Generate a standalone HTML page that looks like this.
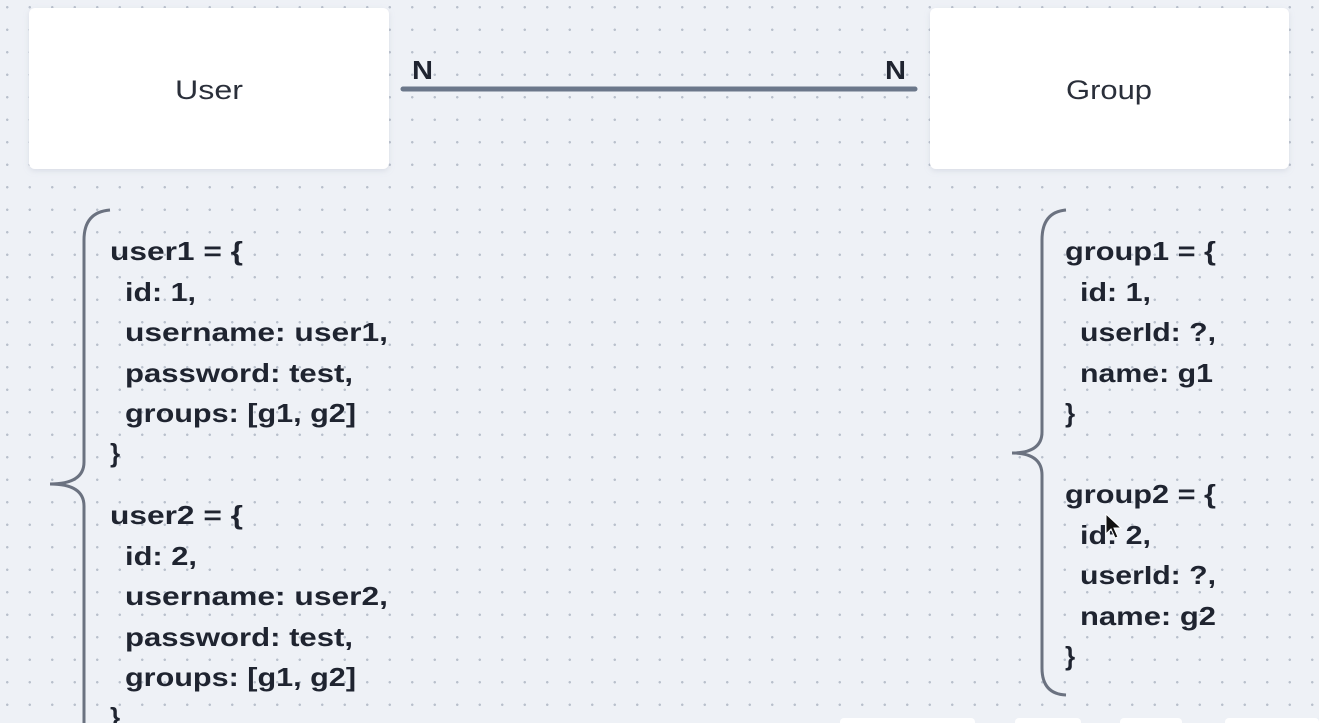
<!DOCTYPE html>
<html><head><meta charset="utf-8"><style>
html,body{margin:0;padding:0;}
body{width:1319px;height:723px;overflow:hidden;background:#eef1f6;
background-image:radial-gradient(circle,#b9c0cc 1.1px,transparent 1.3px);
background-size:22.5px 22.5px;background-position:-4px -4px;}
svg{position:absolute;left:0;top:0;}
text{font-family:"Liberation Sans",sans-serif;font-weight:bold;fill:#1f2430;font-size:26px;}
</style></head><body>
<svg width="1319" height="723" viewBox="0 0 1319 723">
<defs><filter id="sh" x="-10%" y="-10%" width="120%" height="130%"><feDropShadow dx="0" dy="2" stdDeviation="3" flood-color="#9aa3b5" flood-opacity="0.25"/></filter></defs>
<rect x="29" y="8" width="360" height="161" rx="6" fill="#fff" filter="url(#sh)"/>
<rect x="930" y="8" width="359" height="161" rx="6" fill="#fff" filter="url(#sh)"/>
<text x="209" y="99" text-anchor="middle" textLength="68" lengthAdjust="spacingAndGlyphs" style="font-weight:normal;font-size:27px;fill:#2a2f3a">User</text>
<text x="1109" y="99" text-anchor="middle" textLength="86" lengthAdjust="spacingAndGlyphs" style="font-weight:normal;font-size:27px;fill:#2a2f3a">Group</text>
<line x1="403" y1="89" x2="915" y2="89" stroke="#6b778a" stroke-width="5" stroke-linecap="round"/>
<text x="412" y="79" textLength="21" lengthAdjust="spacingAndGlyphs">N</text>
<text x="885" y="79" textLength="21" lengthAdjust="spacingAndGlyphs">N</text>
<path d="M110 210 Q84 212 84 240 L84 462 Q84 484 50 484 Q84 484 84 506 L84 723" fill="none" stroke="#6b7280" stroke-width="3"/>
<path d="M1066 210 Q1042 212 1042 240 L1042 432 Q1042 453 1012 453 Q1042 453 1042 475 L1042 668 Q1042 694 1066 695" fill="none" stroke="#6b7280" stroke-width="3"/>
<g>
<text x="110" y="260" textLength="133" lengthAdjust="spacingAndGlyphs">user1 = {</text>
<text x="125" y="301" textLength="71" lengthAdjust="spacingAndGlyphs">id: 1,</text>
<text x="125" y="341" textLength="263" lengthAdjust="spacingAndGlyphs">username: user1,</text>
<text x="125" y="382" textLength="228" lengthAdjust="spacingAndGlyphs">password: test,</text>
<text x="125" y="422" textLength="231" lengthAdjust="spacingAndGlyphs">groups: [g1, g2]</text>
<text x="110" y="462">}</text>
<text x="110" y="524" textLength="133" lengthAdjust="spacingAndGlyphs">user2 = {</text>
<text x="125" y="565" textLength="72" lengthAdjust="spacingAndGlyphs">id: 2,</text>
<text x="125" y="605" textLength="263" lengthAdjust="spacingAndGlyphs">username: user2,</text>
<text x="125" y="646" textLength="228" lengthAdjust="spacingAndGlyphs">password: test,</text>
<text x="125" y="686" textLength="231" lengthAdjust="spacingAndGlyphs">groups: [g1, g2]</text>
<text x="110" y="726">}</text>
<text x="1065" y="260" textLength="151" lengthAdjust="spacingAndGlyphs">group1 = {</text>
<text x="1080" y="301" textLength="71" lengthAdjust="spacingAndGlyphs">id: 1,</text>
<text x="1080" y="341" textLength="136" lengthAdjust="spacingAndGlyphs">userId: ?,</text>
<text x="1080" y="382" textLength="133" lengthAdjust="spacingAndGlyphs">name: g1</text>
<text x="1065" y="422">}</text>
<text x="1065" y="503" textLength="151" lengthAdjust="spacingAndGlyphs">group2 = {</text>
<text x="1080" y="544" textLength="71" lengthAdjust="spacingAndGlyphs">id: 2,</text>
<text x="1080" y="584" textLength="136" lengthAdjust="spacingAndGlyphs">userId: ?,</text>
<text x="1080" y="625" textLength="136" lengthAdjust="spacingAndGlyphs">name: g2</text>
<text x="1065" y="665">}</text>
</g>
<path d="M1106 514 L1106 534 L1111 529 L1115 538 L1118 537 L1114 528 L1121 528 Z" fill="#111" stroke="#fff" stroke-width="1"/>
<rect x="840" y="718" width="135" height="10" rx="4" fill="#fff"/>
<rect x="1015" y="718" width="66" height="10" rx="4" fill="#fff"/>
<rect x="1120" y="718" width="62" height="10" rx="4" fill="#fff"/>
<rect x="1225" y="718" width="94" height="10" rx="4" fill="#fff"/>
</svg>
</body></html>
